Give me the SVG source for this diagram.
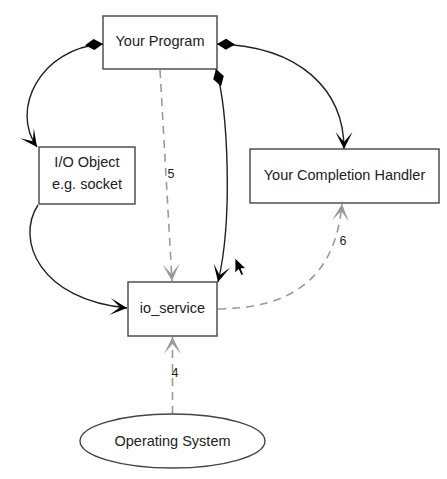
<svg xmlns="http://www.w3.org/2000/svg" width="447" height="479" viewBox="0 0 447 479">
<style>
.box{fill:#fff;stroke:#444;stroke-width:1.4}
.t{font-family:"Liberation Sans",Arial,sans-serif;font-size:14.5px;fill:#222;text-anchor:middle}
.lbl{font-family:"Liberation Sans",Arial,sans-serif;font-size:12.5px;fill:#222;text-anchor:middle}
.solid{fill:none;stroke:#222;stroke-width:1.4}
.dash{fill:none;stroke:#9a9a9a;stroke-width:1.6;stroke-dasharray:8,6}
</style>
<defs>
<marker id="dia" markerUnits="userSpaceOnUse" markerWidth="20" markerHeight="14" refX="0" refY="0" viewBox="0 -7 20 14" orient="auto" overflow="visible">
<path d="M0,0 L9,-5.5 L18,0 L9,5.5 Z" fill="#000"/>
</marker>
<marker id="arr" markerUnits="userSpaceOnUse" markerWidth="18" markerHeight="18" refX="0" refY="0" viewBox="-17 -9 18 18" orient="auto" overflow="visible">
<path d="M0,0 L-17,-8.5 L-7,0 L-17,8.5 Z" fill="#000"/>
</marker>
<marker id="garr" markerUnits="userSpaceOnUse" markerWidth="18" markerHeight="18" refX="0" refY="0" viewBox="-17 -9 18 18" orient="auto" overflow="visible">
<path d="M0,0 L-17,-8.5 L-7,0 L-17,8.5 Z" fill="#9a9a9a"/>
</marker>
</defs>
<g id="connectors">
<path class="solid" d="M103 44 C40 48, 10 110, 37 147" marker-start="url(#dia)" marker-end="url(#arr)"/>
<path class="solid" d="M217 44 C300 46, 344 90, 344 149" marker-start="url(#dia)" marker-end="url(#arr)"/>
<path class="solid" d="M216 69 C228 110, 233 220, 218 282" marker-start="url(#dia)" marker-end="url(#arr)"/>
<path class="solid" d="M38 205 C15 240, 40 300, 127 308" marker-end="url(#arr)"/>
<path class="dash" d="M160 70 L172 281" marker-end="url(#garr)"/>
<path class="dash" d="M218 309 C290 308, 335 280, 342 204" marker-end="url(#garr)"/>
<path class="dash" d="M172.5 414 L172.5 337" marker-end="url(#garr)"/>
<text class="lbl" x="171" y="178">5</text>
<text class="lbl" x="343" y="245">6</text>
<text class="lbl" x="175" y="377">4</text>
</g>
<g id="your-program">
<rect class="box" x="103" y="16" width="114" height="53"/>
<text class="t" x="160" y="46">Your Program</text>
</g>
<g id="io-object">
<rect class="box" x="39" y="147" width="96" height="57"/>
<text class="t" x="87" y="167">I/O Object</text>
<text class="t" x="87" y="189">e.g. socket</text>
</g>
<g id="completion-handler">
<rect class="box" x="250" y="149" width="189" height="54"/>
<text class="t" x="344.5" y="180">Your Completion Handler</text>
</g>
<g id="io-service">
<rect class="box" x="128" y="282" width="89" height="54"/>
<text class="t" x="172.5" y="313">io_service</text>
</g>
<g id="operating-system">
<ellipse class="box" cx="172.5" cy="441" rx="92.5" ry="27"/>
<text class="t" x="172.5" y="446">Operating System</text>
</g>
<path d="M235 258 L235 273 L238.6 269.6 L241.2 275.4 L243.6 274.4 L241 268.7 L245.8 268.4 Z" fill="#000" stroke="#fff" stroke-width="0.8"/>
</svg>
